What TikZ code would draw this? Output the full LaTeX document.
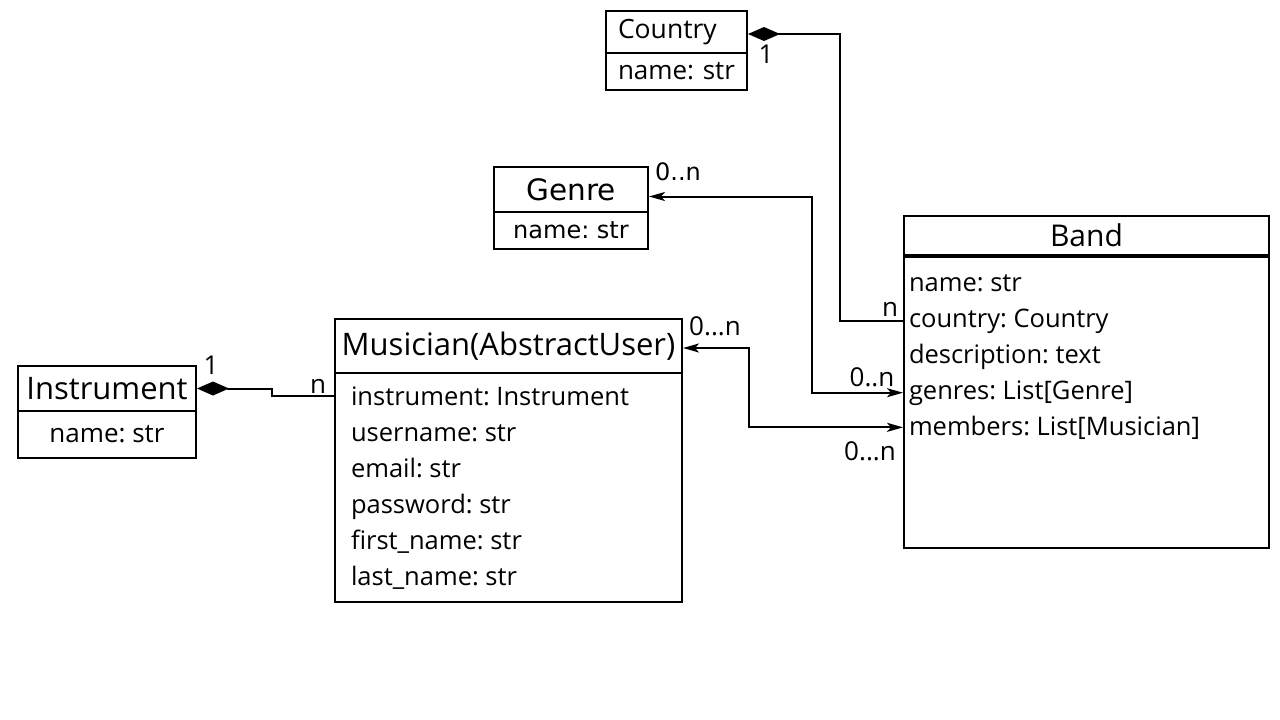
\documentclass[tikz,border=0pt]{standalone}
\usepackage{fontspec}
\setmainfont{Open Sans}
\newfontfamily\dejavu{DejaVu Sans}
\usetikzlibrary{arrows.meta}
\frenchspacing
\begin{document}
\begin{tikzpicture}[x=1pt, y=-1pt, line width=2pt,
	box/.style={draw, rectangle, anchor=north west, inner sep=0},
	title/.style={font=\fontsize{31}{34}\selectfont},
	attr/.style={anchor=base west, inner sep=0, font=\fontsize{25.5}{28}\selectfont},
	lbl/.style={inner sep=0, font=\fontsize{26}{28}\selectfont},
	assoc/.style={{Stealth[length=16pt, width=9pt, inset=4pt]}-{Stealth[length=16pt, width=9pt, inset=4pt]}},
	comp/.style={-{Diamond[length=32pt, width=14pt]}}]
			\useasboundingbox (0,0) rectangle (1280,720);

			\node[box, minimum width=141, minimum height=42, text width=117, inner xsep=12, align=left, font=\fontsize{26.5}{28}\selectfont] (country) at (605,10) {Country};
			\node[box, minimum width=141, minimum height=37, text width=117, inner xsep=12, align=left, font=\fontsize{26}{28}\selectfont] (countrybody) at (605,52) {name: str};

			\node[box, minimum width=154, minimum height=45, font=\dejavu\fontsize{29.5}{32}\selectfont] (genre) at (493,166) {Genre};
			\node[box, minimum width=154, minimum height=37, font=\dejavu\fontsize{24}{26}\selectfont] (genrebody) at (493,211) {name: str};

			\node[box, minimum width=365, minimum height=39, font=\fontsize{30}{32}\selectfont] (band) at (903,215) {Band};
			\node[box, minimum width=365, minimum height=293] (bandbody) at (903,254) {};
			\draw[line width=3pt] (band.south west) -- (band.south east);
			\foreach \a [count=\i] in {name: str, country: Country, description: text, genres: {List[Genre]}, members: {List[Musician]}}
				\node[attr] (band\i) at (908, 291+36*\i-36) {\a};

			\node[box, minimum width=347, minimum height=54, title] (musician) at (334,318) {Musician(AbstractUser)};
			\node[box, minimum width=347, minimum height=229] (musicianbody) at (334,372) {};
			\foreach \a [count=\i] in {instrument: Instrument, username: str, email: str, password: str, first\_name: str, last\_name: str}
				\node[attr] (musician\i) at (350, 405+36*\i-36) {\a};

			\node[box, minimum width=178, minimum height=45, title] (instrument) at (17,365) {Instrument};
			\node[box, minimum width=178, minimum height=47, font=\fontsize{26}{28}\selectfont] (instrumentbody) at (17,410) {name: str};

			\draw[comp] (bandbody.west |- band2) -- ++(-63,0) |- ([yshift=-2pt]country.east);
			\draw[assoc] ([yshift=-7pt]genre.east) -- ++(163,0) |- (bandbody.west |- band4);
			\draw[assoc] ([yshift=-2pt]musician.east) -- ++(66,0) |- (bandbody.west |- band5);
			\draw[comp] (musicianbody.west |- musician1) -- ++(-62,0) |- (instrument.east);

			\node[lbl] (l1) at (766,54) {1};
			\node[lbl] (l2) at (890,309) {n};
			\node[lbl, font=\dejavu\fontsize{24}{26}\selectfont] (l3) at (678,172) {0..n};
			\node[lbl] (l4) at (872,377) {0..n};
			\node[lbl] (l5) at (715,326) {0...n};
			\node[lbl] (l6) at (870,451) {0...n};
			\node[lbl] (l7) at (211,365) {1};
			\node[lbl] (l8) at (318,386) {n};
		\end{tikzpicture}
\end{document}
